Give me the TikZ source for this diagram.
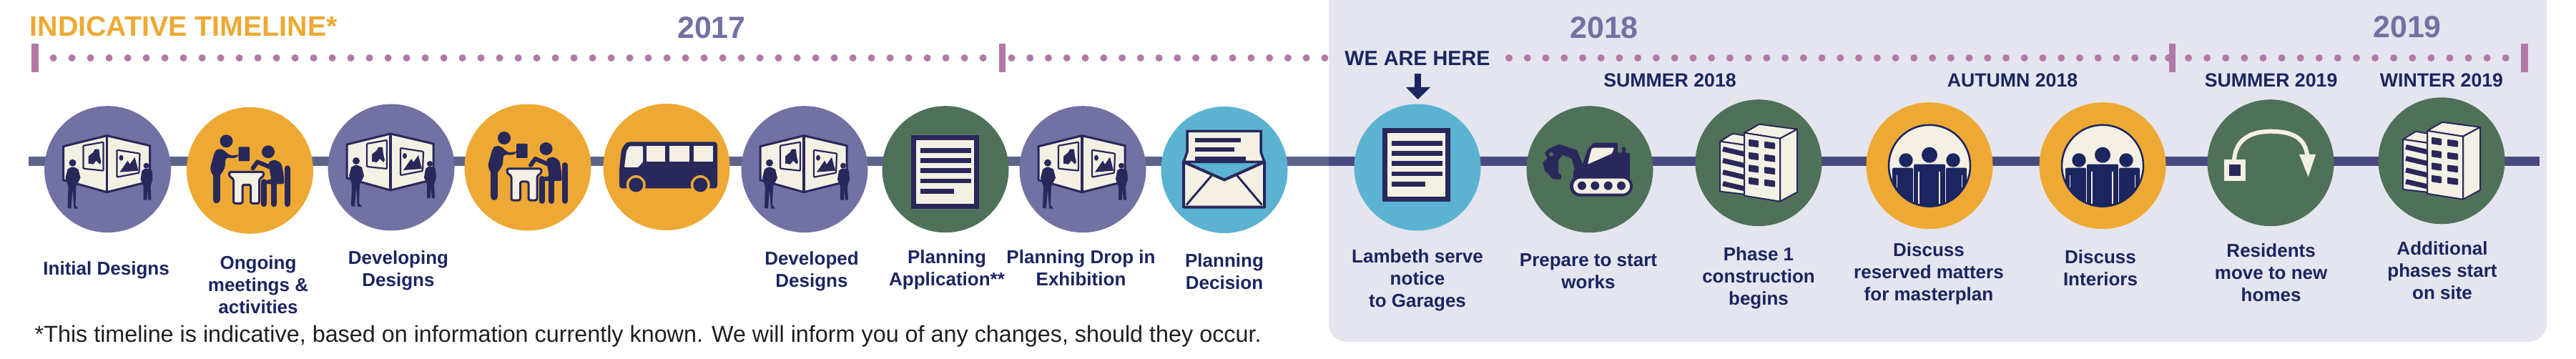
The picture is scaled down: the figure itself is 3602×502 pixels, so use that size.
\documentclass[tikz,border=0pt]{standalone}
\usepackage{fontspec}
\setmainfont{Liberation Sans}
\definecolor{ink}{HTML}{28285B}
\definecolor{txt}{HTML}{1B2560}
\definecolor{cream}{HTML}{F4F0E3}
\definecolor{cpurple}{HTML}{7271A3}
\definecolor{corange}{HTML}{EDA933}
\definecolor{cgreen}{HTML}{4F7159}
\definecolor{cteal}{HTML}{5BB3D1}
\definecolor{panelc}{HTML}{E4E5EE}
\definecolor{dotc}{HTML}{B278A8}
\definecolor{linew}{HTML}{5C648C}
\definecolor{linep}{HTML}{474A7E}
\newcommand{\pxfont}[2]{\fontsize{#1}{#2}\selectfont}
\tikzset{
  stopc/.style={circle,minimum size=17.7mm,inner sep=0pt,fill=#1},
  lab/.style={anchor=north,inner sep=0pt,align=center,text=txt,font=\bfseries\pxfont{7.4}{8.82}},
  season/.style={anchor=north,inner sep=0pt,text=txt,font=\bfseries\pxfont{7.6}{9}},
  yearlab/.style={anchor=north,inner sep=0pt,text=cpurple,font=\bfseries\pxfont{12.2}{14}},
  tickbar/.style={fill=dotc},
  iconGallery/.pic={
    \draw[ink,fill=cream,line width=.3mm,line join=miter] (-1,-47)--(-62,-32)--(-62,15)--(-1,32)--(59,17)--(59,-33)--cycle;
    \draw[ink,line width=.35mm] (-1,-47)--(-1,32);
    \draw[ink,fill=cream,line width=.22mm,rounded corners=.1mm] (-34,-33)--(-6,-38)--(-6,2)--(-34,-1)--cycle;
    \fill[ink] (-27,-18)--(-20,-24)--(-18,-28)--(-12,-28)--(-11,-18)--(-9,-10)--(-11,-7)--(-16,-12)--(-20,-7)--(-27,-8)--cycle;
    \draw[ink,fill=cream,line width=.22mm,rounded corners=.1mm] (13,-27)--(45,-22)--(44,5)--(13,11)--cycle;
    \fill[ink] (17,4)--(28,-12)--(31,-7)--(38,-17)--(43,2)--cycle;
    \fill[ink] (19,-16) circle[x radius=3,y radius=4];
    \fill[ink] (-49,-9) circle[radius=5];
    \fill[ink] (-51,-3)--(-56,0)--(-59,12)--(-55,24)--(-56,54)--(-51,55)--(-49,28)--(-47,55)--(-41,55)--(-45,50)--(-44,24)--(-38,12)--(-41,0)--(-47,-3)--cycle;
    \fill[ink] (54,-5) circle[radius=4];
    \fill[ink] (52,-1)--(48,2)--(46,14)--(50,24)--(50,43)--(55,43)--(55.5,28)--(57,43)--(61,43)--(60,24)--(63,14)--(62,2)--(57,-1)--cycle;
  },
  iconMeet/.pic={
    \fill[ink] (-33,-41) circle[radius=9];
    \fill[ink,rounded corners=.4mm] (-49,-27)--(-56,-2)--(-51,9)--(-43,9)--(-35,-3)--(-34,-18)--(-21,-17)--(-16,-20)--(-16,-23)--(-25,-20)--(-31,-23)--(-38,-30)--(-45,-30)--cycle;
    \draw[ink,line width=1mm,line cap=round] (-47,0)--(-47,41);
    \fill[ink,rounded corners=.1mm] (-16,-33) rectangle (-.5,-13);
    \draw[ink,fill=cream,line width=.3mm,rounded corners=.25mm] (-29,2)--(19,2)--(19,8)--(13,12)--(13,46)--(1,46)--(1,20)--(-10.5,20)--(-10.5,46)--(-23,46)--(-23,12)--(-29,8)--cycle;
    \fill[ink] (25.5,-26) circle[radius=9];
    \fill[ink,rounded corners=.3mm] (26,-12)--(35,-15)--(44,-10)--(47,5)--(48,19)--(22,19)--(22,13)--(30,13)--(27,-3)--cycle;
    \draw[ink,line width=.6mm,line cap=round,line join=round] (4,-3)--(10.5,-12)--(27,-5);
    \draw[ink,line width=.8mm,line cap=round] (19.5,16)--(19.5,47);
    \draw[ink,line width=.8mm,line cap=round] (33,19)--(33,47);
    \draw[ink,line width=.8mm,line cap=round] (52,-3)--(52,47);
  },
  iconDoc/.pic={
    \fill[ink] (-48,-48) rectangle (47,55);
    \fill[cream] (-41,-41) rectangle (40,48);
    \fill[ink] (-35,-29.7) rectangle (36,-22.7);
    \fill[ink] (-35,-15.7) rectangle (36,-8.7);
    \fill[ink] (-35,-1.7) rectangle (36,5.3);
    \fill[ink] (-35,13.3) rectangle (36,19.3);
    \fill[ink] (-35,27.3) rectangle (12,34.3);
  },
  iconBus/.pic={
    \fill[ink,rounded corners=.4mm] (-66,30)--(-66,3)--(-63,-25)--(-56,-35)--(71,-35)--(71,30)--cycle;
    \fill[cream,rounded corners=.1mm] (-59,.5)--(-56,-22)--(-52,-29)--(-33,-29)--(-33,-7)--(-40,.5)--cycle;
    \fill[cream] (-27.7,-29) rectangle (-2,-7);
    \fill[cream] (3.7,-29) rectangle (32,-7);
    \fill[cream] (38,-29) rectangle (64.7,-7);
    \fill[corange] (-42.7,25) circle[radius=13.5];
    \fill[corange] (47.3,25) circle[radius=13.5];
    \fill[ink] (-42.7,25) circle[radius=10];
    \fill[ink] (47.3,25) circle[radius=10];
  },
  iconMail/.pic={
    \draw[ink,fill=cream,line width=.35mm] (-52,-25)--(-52,-54)--(51,-54)--(51,-25)--(56,-11)--(-57,-11)--cycle;
    \fill[ink] (-41,-44) rectangle (23,-38.5);
    \fill[ink] (-41,-31.5) rectangle (14,-25.5);
    \fill[ink] (-41,-18.5) rectangle (30,-12.5);
    \draw[ink,fill=cream,line width=.4mm,line join=round] (-57,-11)--(0,14)--(56,-11)--(56,52)--(-57,52)--cycle;
    \draw[ink,line width=.3mm] (-53,49)--(-17,7);
    \draw[ink,line width=.3mm] (52.5,49)--(17,7);
  },
  iconDigger/.pic={
    \fill[ink,rounded corners=.15mm] (-10,-7)--(-3,-28)--(5,-37)--(39,-37)--(39,-23)--(45,-23)--(45,-31)--(50,-31)--(50,-23)--(56,-23)--(56,13)--(-23,13)--(-23,2)--cycle;
    \fill[ink,rounded corners=.1mm] (-10,-7)--(-18,-27)--(-43,-35)--(-58,-28)--(-63,-23)--(-59,-15)--(-66,-10)--(-63,2)--(-51,14)--(-40,14)--(-40,8)--(-44,5)--(-44,-13)--(-38,-20)--(-25,-15)--(-21,2)--cycle;
    \fill[cgreen] (-54,-21) circle[radius=3];
    \fill[cream,rounded corners=.1mm] (4,-30)--(34,-30)--(31,-22)--(-3,-7)--(2,-27)--cycle;
    \fill[ink,rounded corners=1.45mm] (-28,9) rectangle (60,38);
    \fill[cream,rounded corners=1mm] (-23,13) rectangle (56,34);
    \foreach \wx in {-11,7.3,25.7,44} \fill[ink] (\wx,23) circle[radius=6];
  },
  iconTower/.pic={
    \draw[ink,fill=cream,line width=.2mm,line join=round] (-54,-30)--(-36,-41)--(-19,-38)--(-20,-25)--cycle;
    \draw[ink,fill=cream,line width=.2mm,line join=round] (-54,-30)--(-20,-25)--(-20,44)--(-54,40)--cycle;
    \foreach \by in {-19.3,-3.3,13,29} \draw[ink,line width=.7mm] (-50,\by)--(-20,\by+7);
    \draw[ink,fill=cream,line width=.2mm,line join=round] (-20,-42)--(1,-54)--(54,-47)--(30,-34)--cycle;
    \draw[ink,fill=cream,line width=.2mm,line join=round] (30,-34)--(54,-47)--(54,41)--(30,54)--cycle;
    \draw[ink,fill=cream,line width=.2mm,line join=round] (-20,-42)--(30,-34)--(30,54)--(-20,46)--cycle;
    \foreach \wy in {-33,-15,2.5,20} {
      \fill[ink,rounded corners=.1mm] (-14,\wy)--(0,\wy+2)--(0,\wy+11.5)--(-14,\wy+9.5)--cycle;
      \fill[ink,rounded corners=.1mm] (8,\wy+3)--(23,\wy+5)--(23,\wy+14)--(8,\wy+12)--cycle;
    }
  },
  iconPeople/.pic={
    \fill[cream] (0,0) circle[radius=57];
    \begin{scope}
      \clip (0,0) circle[radius=57];
      \fill[txt] (0,-15) circle[radius=11];
      \fill[txt] (-33,-7.7) circle[radius=9.7];
      \fill[txt] (33,-7.7) circle[radius=9.7];
      \fill[txt,rounded corners=.2mm] (-22,-2) rectangle (22,70);
      \fill[txt,rounded corners=.2mm] (-52,3) rectangle (-23,70);
      \fill[txt,rounded corners=.2mm] (23,3) rectangle (52,70);
      \draw[cream,line width=.2mm] (-14.7,8)--(-14.7,53);
      \draw[cream,line width=.2mm] (14.3,8)--(14.3,53);
      \draw[cream,line width=.15mm] (-45.7,13)--(-45.7,30);
      \draw[cream,line width=.15mm] (45.3,13)--(45.3,30);
      \draw[cream,line width=.15mm] (-22.5,3)--(-22.5,50);
      \draw[cream,line width=.15mm] (22.5,3)--(22.5,50);
    \end{scope}
    \draw[txt,line width=.25mm] (0,0) circle[radius=57];
  },
  iconMove/.pic={
    \fill[cream] (-65,-4.7) rectangle (-35,25);
    \fill[ink] (-58,2.3) rectangle (-42,18);
    \draw[cream,line width=.6mm] (-51,-4) .. controls (-49,-35) and (-25,-44) .. (0,-44) .. controls (30,-44) and (48,-35) .. (51,-11);
    \fill[cream] (40,-11.7)--(63,-11.7)--(52.6,19.6)--cycle;
  }
}
\begin{document}
\begin{tikzpicture}[x=.1mm,y=-.1mm]
\useasboundingbox (0,0) rectangle (3602,502);
% panel
\fill[panelc] (1858,0) [rounded corners=2.5mm] -- (1858,478) -- (3561,478) [sharp corners] -- (3561,0) -- cycle;
% main line
\coordinate (lineL) at (40,225.5);
\coordinate (lineM) at (1858,225.5);
\coordinate (lineR) at (3551,225.5);
\draw[linew,line width=1.3mm] (lineL) -- (lineM);
\draw[linep,line width=1.3mm] (lineM) -- (lineR);
% dots
\foreach \k in {0,...,50} \fill[dotc] (74.6+26*\k,81) circle[radius=.5mm];
\foreach \k in {0,...,17} \fill[dotc] (1414.5+25.76*\k,81) circle[radius=.5mm];
\foreach \k in {0,...,35} \fill[dotc] (2110+25.74*\k,81) circle[radius=.5mm];
\fill[dotc] (3032,81) circle[radius=.5mm];
\foreach \k in {0,...,17} \fill[dotc] (3060+26.1*\k,81) circle[radius=.5mm];
% ticks
\fill[tickbar] (44,61) rectangle (54,101);
\fill[tickbar] (1397,61) rectangle (1406,101);
\fill[tickbar] (3033,61) rectangle (3042,101);
\fill[tickbar] (3525,61) rectangle (3535,101);
% stops
\node[stopc=cpurple] (c1) at (150.5,236.7) {};
\node[stopc=corange] (c2) at (349.5,238.3) {};
\node[stopc=cpurple] (c3) at (547,234) {};
\node[stopc=corange] (c4) at (738,234) {};
\node[stopc=corange] (c5) at (932,233.5) {};
\node[stopc=cpurple] (c6) at (1125,236.7) {};
\node[stopc=cgreen] (c7) at (1322,236.7) {};
\node[stopc=cpurple] (c8) at (1514,236.7) {};
\node[stopc=cteal] (c9) at (1712,237.5) {};
\node[stopc=cteal] (c10) at (1982,234) {};
\node[stopc=cgreen] (c11) at (2223,236.7) {};
\node[stopc=cgreen] (c12) at (2459,227.7) {};
\node[stopc=corange] (c13) at (2698,231.7) {};
\node[stopc=corange] (c14) at (2940,231.7) {};
\node[stopc=cgreen] (c15) at (3175,227.7) {};
\node[stopc=cgreen] (c16) at (3414,224.8) {};
% icons
\pic at (c1) {iconGallery};
\pic at (c2) {iconMeet};
\pic at (c3) {iconGallery};
\pic at (c4) {iconMeet};
\pic at (c5) {iconBus};
\pic at (c6) {iconGallery};
\pic at (c7) {iconDoc};
\pic at (c8) {iconGallery};
\pic at (c9) {iconMail};
\pic[shift={(-1,-7)}] at (c10) {iconDoc};
\pic at (c11) {iconDigger};
\pic at (c12) {iconTower};
\pic at (c13) {iconPeople};
\pic at (c14) {iconPeople};
\pic at (c15) {iconMove};
\pic at (c16) {iconTower};
% headings
\node[anchor=north west,inner sep=0pt,text=corange,font=\bfseries\pxfont{11.2}{13}] (title) at (41,22) {INDICATIVE TIMELINE*};
\node[yearlab] (y17) at (995,23) {2017};
\node[yearlab] (y18) at (2243,23) {2018};
\node[yearlab] (y19) at (3366,22) {2019};
\node[anchor=north,inner sep=0pt,text=txt,font=\bfseries\pxfont{8.2}{10}] (here) at (1982,71) {WE ARE HERE};
\node[season] (s1) at (2335,102) {SUMMER 2018};
\node[season] (s2) at (2814,102) {AUTUMN 2018};
\node[season] (s3) at (3175.6,102) {SUMMER 2019};
\node[season] (s4) at (3414,102) {WINTER 2019};
% here arrow
\fill[txt] (1978,103) rectangle (1987,122);
\fill[txt] (1966,122) -- (2000,122) -- (1982.5,139) -- cycle;
% labels
\node[lab] (l1) at (148.6,365) {Initial Designs};
\node[lab] (l2) at (361,357) {Ongoing\\meetings \&\\activities};
\node[lab] (l3) at (557,350) {Developing\\Designs};
\node[lab] (l6) at (1135,351) {Developed\\Designs};
\node[lab] (l7) at (1324,349) {Planning\\Application**};
\node[lab] (l8) at (1511.5,349) {Planning Drop in\\Exhibition};
\node[lab] (l9) at (1712,354) {Planning\\Decision};
\node[lab] (l10) at (1982,348) {Lambeth serve\\notice\\to Garages};
\node[lab] (l11) at (2221,354) {Prepare to start\\works};
\node[lab] (l12) at (2459,345) {Phase 1\\construction\\begins};
\node[lab] (l13) at (2697,339) {Discuss\\reserved matters\\for masterplan};
\node[lab] (l14) at (2937,349) {Discuss\\Interiors};
\node[lab] (l15) at (3175.6,340) {Residents\\move to new\\homes};
\node[lab] (l16) at (3415,337) {Additional\\phases start\\on site};
% footnote
\node[anchor=north west,inner sep=0pt,text=black!88,font=\pxfont{9.2}{11}] (foot) at (48,454) {*This timeline is indicative, based on information currently known. We will inform you of any changes, should they occur.};
\end{tikzpicture}
\end{document}
